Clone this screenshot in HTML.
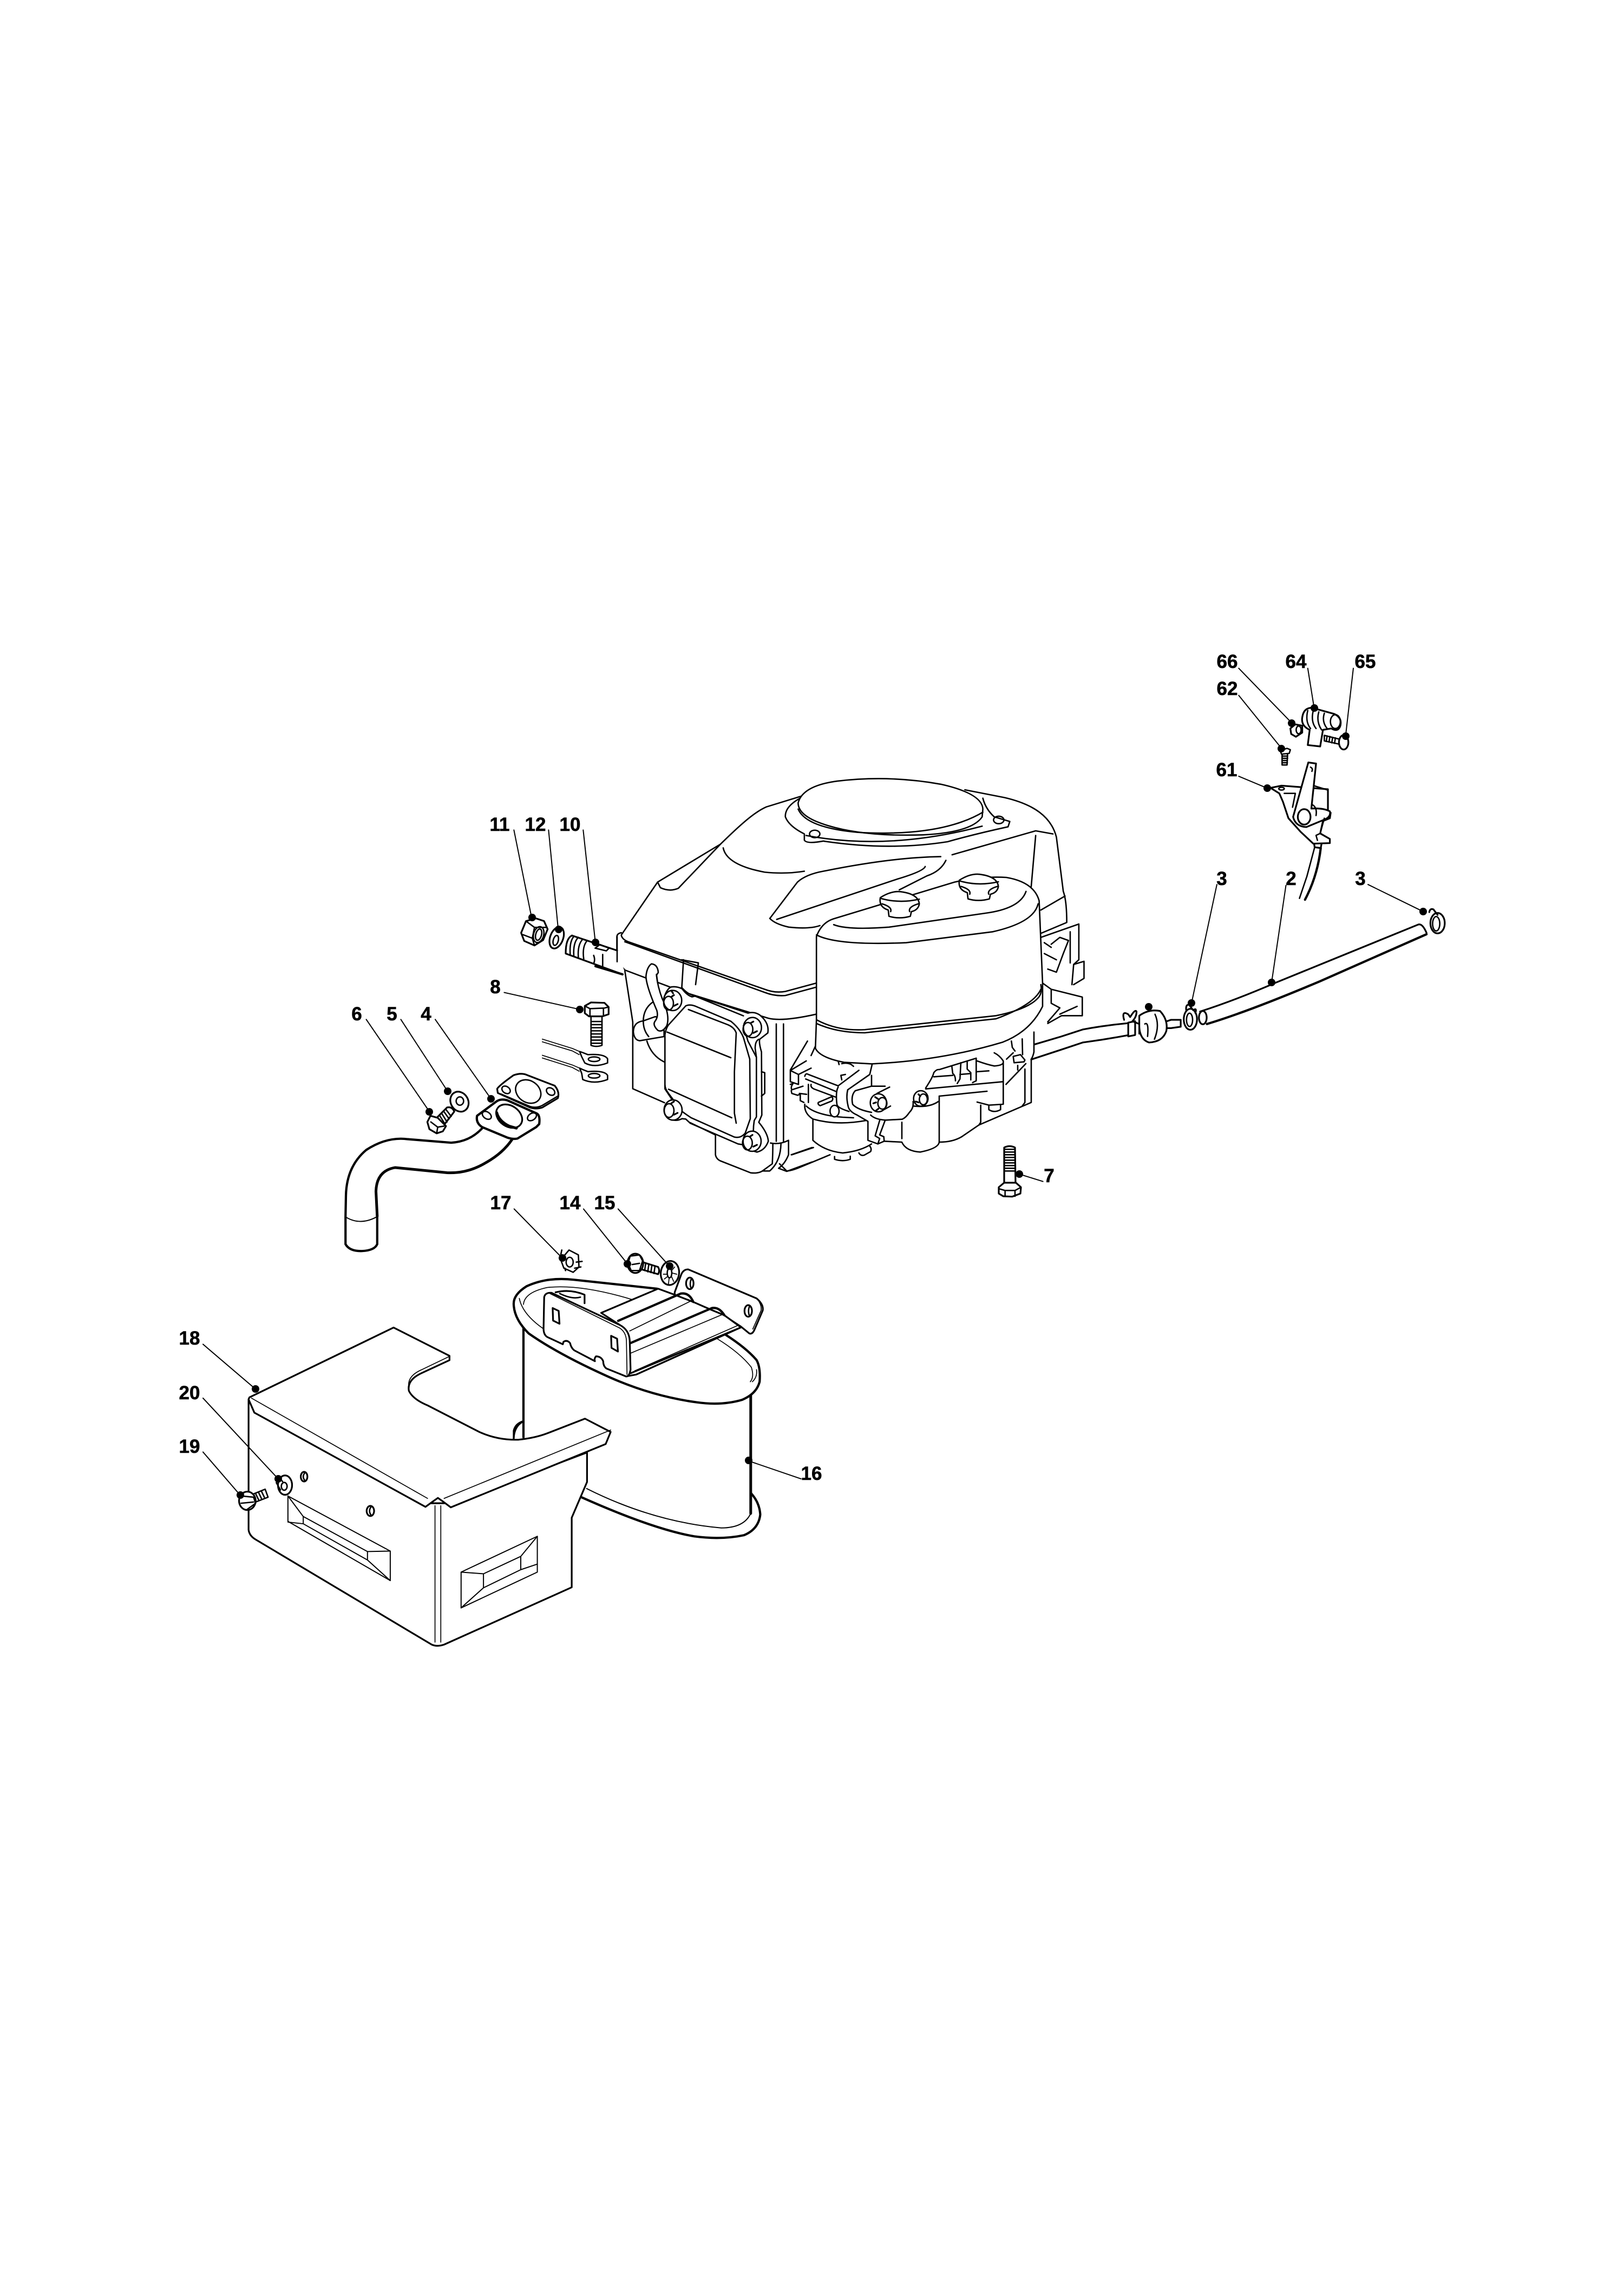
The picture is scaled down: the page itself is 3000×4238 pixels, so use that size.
<!DOCTYPE html>
<html><head><meta charset="utf-8"><style>
html,body{margin:0;padding:0;background:#fff}
svg{display:block}
svg *{vector-effect:non-scaling-stroke}
path,line,ellipse,polygon,circle{stroke:#000;stroke-width:2.6;fill:none;stroke-linejoin:round;stroke-linecap:round}
.w{fill:#fff}
.t{stroke-width:4.2}
.m{stroke-width:3.2}
.n{stroke-width:1.7}
.l{stroke-width:2}
circle.d{fill:#000;stroke:none}
text{font:bold 35px "Liberation Sans",sans-serif;text-anchor:middle;fill:#000;stroke:#000;stroke-width:.6}
</style></head><body>
<svg width="3000" height="4238" viewBox="0 0 3000 4238" xmlns="http://www.w3.org/2000/svg">
<rect width="3000" height="4238" fill="#fff"/>

<!-- ENGINE hood/block -->
<g transform="translate(1100,1400) scale(.6378,.574)">
<path class="w" d="M62,577 Q62,565 78,565 L180,400 L362,278 C420,215 460,175 495,158 L615,118 L850,60 L1070,103 L1185,128 C1270,150 1320,190 1335,255 L1355,430 Q1365,460 1365,530 L1400,535 L1415,655 L1410,830 L1270,915 L1262,1115 L1105,1170 L1050,1225 L1000,1235 Q990,1265 950,1268 Q900,1265 890,1235 L800,1240 L690,1285 L555,1330 L530,1325 L470,1335 L370,1300 Q348,1295 345,1280 L345,1215 L108,1065 L108,850 L85,685 L62,655 Z" style="stroke:none"/>
<path d="M75,570 L180,400 L362,278 C420,215 460,175 495,158 L612,118"/>
<path d="M1070,103 L1185,128 C1270,150 1320,190 1335,255 L1355,430 Q1365,460 1365,530 L1290,565"/>
<path d="M1290,490 L1360,445"/>
<path d="M1275,250 L1262,415"/>
<path d="M180,400 L188,418 Q215,432 240,420 L362,278"/>
<path d="M370,290 Q380,345 490,368 Q550,375 605,365"/>
<path d="M505,517 L585,400 Q610,375 660,365 Q860,320 1000,318"/>
<path d="M505,517 Q520,535 560,545 Q620,552 650,540"/>
<path d="M525,520 L875,390 Q950,365 955,350"/>
<path d="M1033,312 L1275,235 L1325,245"/>
<path d="M1015,330 Q1000,365 960,380 L880,425"/>
<!-- air filter lid -->
<path d="M615,118 Q548,150 550,190 Q560,220 605,245 L605,265 Q612,278 660,268 Q850,300 1020,270 Q1100,245 1195,222 L1200,205 L1155,190 Q1130,165 1122,130"/>
<path d="M610,250 Q850,300 1120,220"/>
<path class="w" d="M587,145 Q600,90 700,75 Q850,55 1000,85 Q1120,115 1122,165 L1120,190 Q1090,240 950,248 Q750,255 640,205 Q587,180 587,145 Z"/>
<path d="M587,165 Q610,225 760,240 Q1000,255 1122,175"/>
<ellipse cx="635" cy="245" rx="15" ry="12"/>
<ellipse cx="1168" cy="200" rx="15" ry="12"/>
<!-- rim band -->
<path d="M62,577 L62,655 L85,683"/>
<path d="M62,577 Q62,565 75,563"/>
<path d="M75,572 Q78,585 95,592 L490,745 Q520,758 550,752 L640,725"/>
<path d="M85,592 L490,755 Q520,768 550,765 L640,738"/>
<path d="M85,683 L250,752 L500,838 Q540,850 640,825"/>
<path d="M250,650 L298,660 L290,730"/>
<path d="M255,650 L250,740"/>
<path d="M85,685 L108,850 L108,1065 L200,1110"/>
<!-- right bracket -->
<path d="M1290,578 L1400,535 L1400,650 L1385,665 L1380,730"/>
<path d="M1375,560 L1375,660"/>
<path d="M1320,600 L1345,578 L1370,588 L1355,630 L1335,690 L1310,680"/>
<path d="M1300,630 L1335,650 M1300,595 L1320,610"/>
<path d="M1385,665 L1415,655 L1415,710 L1385,730"/>
<path d="M1295,725 L1320,745 L1410,770 L1410,830 L1350,830 L1310,855"/>
<path d="M1320,745 L1320,790 L1345,805 L1310,850"/>
<path d="M1345,825 L1395,800"/>
</g>

<!-- VALVE COVER -->
<g transform="translate(1160,1780) scale(.33333)">
<path d="M485,950 L485,1060 Q490,1085 515,1095 L680,1160 Q720,1165 745,1150 L800,1110 Q803,1050 803,1000"/>
<path d="M745,1150 L785,1150 Q845,1100 848,1000"/>
<path d="M790,995 Q840,1005 890,980 L890,1060 Q870,1110 835,1135 L880,1152 L1020,1100"/>
<path d="M905,1060 L1020,1020"/>
<path d="M822,335 L822,985"/>
<path d="M862,335 L862,985"/>
<path d="M140,212 Q85,250 85,320"/>
<path d="M105,430 Q130,510 200,545"/>
<path class="w" d="M150,295 L85,318 Q30,325 30,380 Q35,425 65,428 L200,405 L200,300 Z"/>
<path d="M85,320 Q85,370 115,405"/>
<path class="w" d="M240,130 Q270,125 300,140 Q325,175 355,185 L375,180 L665,275 Q700,265 730,285 Q785,330 775,385 L730,420 Q725,440 740,490 L742,840 L725,880 Q775,940 778,985 Q760,1035 715,1045 L680,1035 L640,1005 L610,1000 L345,885 L320,862 L300,860 Q270,875 240,865 Q200,840 205,800 Q215,760 245,755 L205,695 L205,395 L215,355 Q190,240 200,190 Q215,140 240,130 Z"/>
<path d="M300,135 Q330,170 370,180 L640,290"/>
<path d="M640,345 L665,430 L712,520 L712,850 L700,870 Q695,900 695,930"/>
<path d="M725,420 Q705,430 705,470 L712,520"/>
<path d="M740,600 L758,605 L758,720 L740,735"/>
<path d="M345,882 L485,950"/>
<path class="w" d="M320,235 Q340,225 370,235 L570,320 Q620,360 640,410 L675,530 L678,860 L650,940 Q625,970 590,962 L350,855 Q320,835 300,820 L225,720 Q205,695 205,670 L205,395 Q210,360 225,340 Z"/>
<path d="M335,255 L555,340 Q590,355 600,385 L590,600 L590,830 L600,885"/>
<path d="M217,380 L570,522"/>
<path d="M225,697 L575,855"/>
<path class="w" d="M100,70 Q105,20 130,2 Q165,5 168,50 L158,65 Q165,130 190,195 Q235,290 215,345 Q190,385 165,370 Q135,340 150,320 Q170,295 160,260 Q100,120 100,70 Z"/>
<path d="M158,60 L165,110"/>
<!-- bolts -->
<ellipse class="w" cx="248" cy="205" rx="50" ry="56"/><ellipse cx="225" cy="220" rx="27" ry="38"/>
<path class="m" d="M240,185 L255,175 M255,235 L275,225 M240,150 L250,165"/>
<ellipse class="w" cx="690" cy="355" rx="50" ry="56"/><ellipse cx="665" cy="365" rx="27" ry="38"/>
<path class="m" d="M680,330 L695,322 M695,385 L715,375"/>
<ellipse class="w" cx="250" cy="812" rx="50" ry="56"/><ellipse cx="228" cy="815" rx="27" ry="38"/>
<path class="m" d="M240,775 L255,765 M255,838 L275,828"/>
<ellipse class="w" cx="688" cy="985" rx="50" ry="56"/><ellipse cx="662" cy="995" rx="27" ry="38"/>
<path class="m" d="M675,960 L690,950 M695,1015 L715,1005"/>
</g>

<!-- CARB / LOWER BLOCK -->
<g transform="translate(1440,1880) scale(.33333)">
<path class="w" d="M60,290 L198,170 L1450,100 L1395,470 L1100,600 L890,690 L880,720 L780,745 L680,700 L580,690 L510,710 L390,790 L300,770 L185,690 L185,560 L140,510 L60,360 Z" style="stroke:none"/>
<path d="M155,130 L60,290 L60,355 L105,370 L105,315 L60,293"/>
<path d="M105,315 L175,280"/>
<path d="M65,290 L148,240"/>
<path d="M175,210 L198,160"/>
<path d="M145,340 L315,410 M140,325 Q145,305 160,315 L325,378"/>
<path d="M60,370 L75,365 Q60,385 68,400 L130,380 M65,405 L68,420 L100,430 L115,425 L115,460 L135,470 M110,420 L150,425"/>
<path d="M160,370 L160,470"/>
<path d="M175,370 Q170,385 190,395 L310,440"/>
<path d="M325,378 L440,292"/>
<path d="M325,385 Q310,410 318,480 Q320,500 385,520"/>
<path d="M378,400 Q368,440 380,490 Q385,520 430,540 L490,575 L490,680 L545,700 L580,685 L578,660 L555,650 L585,570"/>
<path d="M530,655 L555,570 M530,655 L555,670 L545,700"/>
<path d="M378,400 L500,315 L513,260"/>
<path d="M510,320 L510,380 L585,380"/>
<path d="M420,405 L510,380"/>
<path d="M540,420 L610,385"/>
<path d="M420,405 Q395,430 405,480 Q430,510 510,525"/>
<path d="M560,520 L615,490"/>
<path d="M505,540 Q530,565 590,568 L680,563 Q700,555 720,525 Q745,500 740,465"/>
<path d="M810,390 Q850,330 855,305 Q870,285 885,288 L1090,225"/>
<path d="M855,328 L960,320"/>
<path d="M810,395 L1240,355"/>
<path d="M885,435 L1150,408"/>
<path d="M885,435 L885,690 Q880,725 780,745 Q700,740 678,690 L580,685"/>
<path d="M678,580 L678,670"/>
<path d="M740,490 Q830,500 880,465"/>
<path d="M1095,468 L1160,485 L1240,480 L1240,240 Q1220,210 1190,195"/>
<path d="M1095,240 Q1150,260 1190,268 Q1235,265 1240,250"/>
<path d="M1090,300 L1160,295"/>
<path d="M1090,225 L1090,350 L1070,360"/>
<path d="M955,270 L960,310 Q975,320 975,350"/>
<path d="M1005,250 L1000,340 L985,365"/>
<path d="M1040,240 L1040,285 L1060,305 L1060,345"/>
<path d="M1000,315 L1060,310"/>
<path d="M1115,485 L1115,580 L1105,595"/>
<path d="M885,690 Q960,690 1010,660 L1105,595 L1395,470 L1395,235"/>
<path d="M1360,285 L1360,470 L1345,490"/>
<path d="M1160,490 L1160,510 Q1190,530 1225,510 L1225,485"/>
<path d="M1255,370 L1365,255"/>
<path d="M1320,265 L1320,290"/>
<path d="M1295,215 L1335,205 L1360,235 L1355,245 L1300,250 Z"/>
<path d="M1285,130 L1290,165 L1305,185"/>
<path d="M1258,230 L1295,195"/>
<path d="M1345,118 L1347,205"/>
<path d="M1410,80 L1410,190 Q1405,215 1395,230"/>
<path class="m" d="M1415,148 L1560,105 L1680,66"/>
<path class="m" d="M1395,232 L1560,178 L1680,138"/>
<!-- filter -->
<path d="M140,480 Q135,530 185,562 Q320,600 480,570"/>
<path d="M148,490 Q200,540 350,552 L410,555"/>
<path d="M185,562 L185,680 Q250,740 350,750 Q450,740 510,700"/>
<ellipse class="w" cx="305" cy="518" rx="25" ry="32"/>
<path d="M215,470 L290,438 Q300,450 290,462 L225,488 Q210,480 215,470 Z"/>
<path d="M305,770 L305,785 Q350,800 392,785 L392,768"/>
<path d="M440,750 Q450,768 470,762 L505,742 Q512,725 500,712"/>
<path d="M68,760 L188,720"/>
<path d="M0,810 L40,850 Q60,850 100,835 L280,760"/>
<path d="M325,240 L330,260 M345,255 Q385,245 410,270 M345,345 L340,320 L365,315"/>
<!-- boss bolts -->
<ellipse class="w" cx="548" cy="472" rx="45" ry="50"/><ellipse cx="570" cy="475" rx="25" ry="32"/>
<path class="m" d="M530,440 L545,450 M520,475 L535,470 M535,515 L548,505"/>
<ellipse class="w" cx="783" cy="448" rx="40" ry="43"/><ellipse cx="797" cy="453" rx="22" ry="30"/>
<path class="m" d="M770,425 L780,435 M755,465 L770,470"/>
<!-- bolt 7 -->
<path class="w m" d="M1245,720 Q1275,705 1305,720 L1308,920 L1245,915 Z"/>
<path d="M1248,730 L1305,730 M1248,745 L1305,745 M1248,760 L1305,760 M1248,775 L1305,775 M1248,790 L1305,790 M1248,805 L1305,805 M1248,820 L1305,820 M1248,835 L1305,835 M1248,850 L1305,850"/>
<path class="w m" d="M1215,940 L1245,915 L1310,915 L1338,940 L1335,975 L1290,992 L1240,990 L1215,975 Z"/>
<path d="M1215,948 L1250,958 L1305,958 L1338,940 M1250,958 L1250,990 M1305,958 L1305,990"/>
<line class="l" x1="1460" y1="908" x2="1328" y2="867"/>
</g>

<!-- TANK -->
<g transform="translate(1100,1400) scale(.6378,.574)">
<path class="w" d="M640,575 Q655,530 690,518 L1040,400 Q1120,380 1190,385 Q1270,400 1285,460 L1295,725 L1295,800 Q1260,880 1180,915 Q1000,975 800,985 L720,980 Q650,965 637,935 L640,843 Z"/>
<path d="M690,537 Q730,555 850,545 L1130,500 Q1230,485 1247,430"/>
<path d="M640,570 Q700,605 900,595 L1150,560 Q1270,530 1282,470"/>
<path d="M1290,730 Q1295,760 1280,775 Q1250,810 1160,830 L780,875 Q700,880 640,843"/>
<path d="M1290,745 Q1270,795 1160,840 L780,885 Q700,885 640,855"/>
<path class="w" d="M825,450 Q860,425 890,432 Q935,440 938,470 Q935,490 915,495 L912,510 Q880,520 850,510 L848,490 Q820,480 825,450 Z"/>
<path d="M830,470 Q860,480 855,495 M935,470 Q905,480 910,495 M825,452 Q880,470 938,455"/>
<g transform="translate(229,-56)">
<path class="w" d="M825,450 Q860,425 890,432 Q935,440 938,470 Q935,490 915,495 L912,510 Q880,520 850,510 L848,490 Q820,480 825,450 Z"/>
<path d="M830,470 Q860,480 855,495 M935,470 Q905,480 910,495 M825,452 Q880,470 938,455"/>
</g>
</g>

<!-- THROTTLE / HOSE -->
<g transform="translate(2000,1180) scale(.5102)">
<path class="m" d="M0,1415 Q80,1400 165,1392"/>
<path class="m" d="M0,1462 Q90,1450 185,1432"/>
<path class="w m" d="M165,1390 L190,1385 L190,1435 L165,1440 Z"/>
<path class="m" d="M150,1380 Q140,1345 165,1360 L172,1370 Q190,1340 195,1350 Q195,1370 180,1385 L205,1395 L205,1430"/>
<path class="w m" d="M205,1365 Q240,1340 280,1348 Q310,1380 303,1420 Q290,1460 240,1462 Q205,1450 205,1400 Z"/>
<path d="M225,1395 Q240,1385 235,1440 M262,1360 Q280,1400 260,1450"/>
<path class="m" d="M305,1385 L320,1380 L355,1380 L355,1405 L320,1410 L305,1410"/>
<ellipse class="w m" cx="390" cy="1378" rx="24" ry="38"/>
<ellipse cx="387" cy="1380" rx="11" ry="24"/>
<path class="m" d="M375,1345 Q372,1325 385,1325 L400,1345 Q415,1335 408,1355"/>
<path class="w" d="M425,1350 Q550,1310 700,1245 L1215,1035 Q1230,1030 1245,1065 L860,1240 Q600,1350 450,1395 Z" style="stroke:none"/>
<path class="m" d="M425,1350 Q550,1310 700,1245 L1215,1035 Q1230,1030 1245,1065"/>
<path class="t" d="M450,1395 Q600,1350 860,1240 L1245,1070"/>
<ellipse class="m" cx="435" cy="1372" rx="14" ry="24"/>
<ellipse class="w m" cx="1285" cy="1030" rx="26" ry="37"/>
<ellipse cx="1280" cy="1032" rx="13" ry="26"/>
<path class="m" d="M1255,990 Q1258,975 1270,980 L1285,1000"/>
<path class="w m" d="M795,285 Q800,250 830,250 L910,272 Q940,285 933,315 Q925,340 900,325 L870,330 L860,390 L815,385 L822,330 Q790,315 795,285 Z"/>
<path d="M815,260 Q805,300 825,325 M835,260 Q825,300 845,325 M855,265 Q845,300 865,330 M875,270 Q865,300 885,325"/>
<ellipse cx="915" cy="300" rx="18" ry="25"/>
<path class="w" d="M875,350 L935,365 L930,382 L875,370 Z"/>
<path d="M885,352 L882,372 M895,354 L892,374 M905,357 L902,377 M915,359 L912,379"/>
<ellipse class="w m" cx="945" cy="375" rx="17" ry="26"/>
<path class="w m" d="M752,325 L770,310 L795,315 L795,340 L772,355 L755,345 Z"/>
<ellipse cx="782" cy="330" rx="9" ry="14"/>
<path class="w" d="M722,415 L742,415 L740,457 L722,457 Z"/>
<path d="M722,425 L742,425 M722,433 L742,433 M722,441 L741,441 M722,449 L741,449"/>
<path class="w" d="M715,405 L740,397 L752,402 L748,415 L720,418 Z"/>
<path class="w m" d="M680,540 L720,532 L888,545 L888,625 L898,630 L895,650 L870,660 L860,705 L895,725 L895,740 L835,742 L790,700 L745,650 L725,590 L712,560 Z"/>
<path d="M830,530 L888,548"/>
<path d="M730,560 L770,560 L760,610"/>
<ellipse cx="720" cy="543" rx="10" ry="5"/>
<path class="w m" d="M817,448 L845,452 L828,615 Q870,612 895,625 Q900,645 875,655 L810,682 Q770,680 762,645 Z"/>
<path d="M825,465 Q835,470 830,480"/>
<ellipse class="w m" cx="802" cy="645" rx="23" ry="28"/>
<path d="M830,600 Q850,610 845,640"/>
<path d="M875,650 L860,705 L845,712 L850,730"/>
<path class="m" d="M838,742 L840,755 L862,758 L865,742"/>
<path d="M840,755 L812,860 L785,940"/>
<path class="t" d="M862,758 Q850,860 805,945"/>
</g>

<!-- PIPE / GASKETS / BOLT 8 -->
<g transform="translate(600,1780) scale(.3827)">
<path class="t" d="M760,795 Q700,860 610,865 L400,848 Q300,835 200,900 Q105,980 102,1120 L100,1220 L100,1355 Q120,1390 180,1388 Q240,1385 253,1355 L253,1220"/>
<path class="t" style="stroke-width:5" d="M253,1220 L247,1100 Q250,1000 340,985 L590,1010 Q690,1015 780,960 Q860,915 905,848"/>
<path class="l" d="M103,1225 Q170,1265 247,1225"/>
<path class="w m" d="M832,605 Q840,590 910,540 Q950,525 980,540 L1110,590 Q1135,620 1125,650 L1050,695 Q1020,705 990,695 L835,625 Z"/>
<path d="M850,630 L990,690 Q1020,700 1050,685 L1125,640"/>
<ellipse cx="982" cy="618" rx="65" ry="52" transform="rotate(35 982 618)"/>
<ellipse cx="875" cy="610" rx="22" ry="16" transform="rotate(35 875 610)"/>
<ellipse cx="1090" cy="618" rx="22" ry="16" transform="rotate(35 1090 618)"/>
<path class="w t" d="M735,735 L830,665 Q850,652 880,660 L1025,725 Q1040,735 1035,775 L1020,790 L930,845 Q910,850 880,840 L760,790 Q728,770 735,735 Z"/>
<ellipse class="m" cx="890" cy="737" rx="68" ry="50" transform="rotate(35 890 737)"/>
<path class="t" style="stroke-width:5" d="M830,720 Q840,760 890,785 L925,795"/>
<ellipse cx="782" cy="733" rx="24" ry="16" transform="rotate(35 782 733)"/>
<ellipse cx="1000" cy="740" rx="24" ry="16" transform="rotate(-35 1000 740)"/>
<ellipse class="w m" cx="650" cy="667" rx="42" ry="50" transform="rotate(-30 650 667)"/>
<ellipse cx="652" cy="664" rx="18" ry="20"/>
<path class="w m" d="M540,745 L590,695 Q615,690 625,715 L575,780 Z"/>
<path d="M555,735 L580,775 M565,725 L590,765 M575,715 L600,750 M585,705 L610,738"/>
<path class="w m" d="M510,735 L545,745 L585,785 L570,810 L540,820 L505,800 L495,765 Z"/>
<path d="M512,765 L545,790 L575,785 M545,790 L540,820"/>
<path class="w" d="M1285,255 L1338,255 L1338,395 Q1310,405 1285,395 Z"/>
<path d="M1285,280 L1338,280 M1285,295 L1338,295 M1285,310 L1338,310 M1285,325 L1338,325 M1285,340 L1338,340 M1285,355 L1338,355 M1285,370 L1338,370 M1285,385 L1338,385"/>
<path class="w m" d="M1255,205 L1285,188 L1350,190 L1370,210 L1370,245 L1340,255 L1275,255 L1255,240 Z"/>
<path d="M1255,205 L1280,218 L1350,215 L1370,210 M1280,218 L1280,255 M1345,215 L1345,252"/>
<path class="n" d="M1050,365 L1195,410 L1230,425 M1050,378 L1195,422 L1228,440"/>
<path class="n" d="M1050,443 L1195,490 L1230,505 M1050,456 L1195,502 L1228,520"/>
<path class="w" d="M1230,425 L1245,430 L1270,440 Q1350,435 1365,460 L1365,480 Q1300,505 1255,480 L1240,450 Z"/>
<ellipse cx="1300" cy="462" rx="28" ry="11"/>
<path class="w" d="M1230,505 L1245,512 L1270,522 Q1350,515 1365,540 L1365,560 Q1300,585 1245,560 L1240,530 Z"/>
<ellipse cx="1300" cy="542" rx="28" ry="11"/>
<line class="l" x1="866" y1="140" x2="1232" y2="222"/>
<line class="l" x1="200" y1="270" x2="505" y2="715"/>
<line class="l" x1="367" y1="270" x2="593" y2="617"/>
<line class="l" x1="533" y1="270" x2="802" y2="653"/>
</g>

<!-- MUFFLER -->
<g transform="translate(900,2200) scale(.3827,.4464)">
<path class="t" d="M175,570 L175,1020"/>
<path class="t" style="stroke-width:5" d="M1272,840 L1272,1335"/>
<path class="m" d="M172,955 Q130,975 128,1025"/>
<path class="t" d="M1272,1250 Q1315,1290 1318,1340 Q1310,1400 1240,1425 Q1130,1445 1000,1430 Q800,1400 455,1268"/>
<path class="l" d="M480,1232 Q800,1370 1130,1395 Q1240,1395 1272,1335"/>
<path class="w t" d="M128,470 Q125,430 190,395 Q290,355 420,368 Q600,385 820,405 L1150,595 Q1250,650 1300,700 Q1320,730 1315,790 Q1300,840 1230,865 Q1130,890 1010,875 Q800,850 600,775 Q350,680 200,590 Q130,530 128,470 Z"/>
<path class="n" d="M155,445 Q170,510 270,570"/>
<path class="n" d="M175,470 Q180,420 290,400 Q450,385 700,450"/>
<path class="n" d="M1110,612 Q1220,670 1275,730 Q1290,770 1270,790"/>
<path class="n" d="M1300,740 Q1305,770 1280,790"/>
<path class="m" d="M330,420 Q400,405 470,430 L470,465"/>
<path d="M350,425 Q410,450 450,440"/>
<path class="w m" d="M905,420 L935,350 Q945,325 970,325 L1300,445 Q1335,470 1330,495 L1290,575 Q1280,595 1265,590 L1225,562 L1150,520 L905,430 Z"/>
<path class="w m" d="M550,505 L825,405 L905,430 L995,460 L1075,490 L1145,515 L1225,565 L720,760 L670,768 L640,555 Z"/>
<path class="n" d="M1310,455 Q1325,475 1322,495 L1282,572"/>
<path class="t" d="M632,538 L935,425 Q975,420 995,460"/>
<path class="t" d="M692,630 L1085,485 Q1120,480 1145,515"/>
<path class="n" d="M688,580 L985,455"/>
<path class="n" d="M692,672 L1140,510"/>
<path class="m" d="M692,755 L1225,565"/>
<path class="n" d="M712,745 L1215,555"/>
<ellipse class="m" cx="978" cy="383" rx="18" ry="24"/>
<path d="M985,365 Q975,385 985,405"/>
<ellipse class="m" cx="1260" cy="497" rx="18" ry="24"/>
<path d="M1266,478 Q1257,497 1266,518"/>
<path class="w m" d="M275,440 Q280,420 310,422 L640,555 Q685,575 688,620 L692,740 Q685,770 670,768 L575,735 Q560,725 560,705 Q550,685 525,685 Q515,695 520,705 L420,660 Q405,650 400,630 Q385,615 368,625 L365,635 L290,605 Q272,595 272,570 Z"/>
<path class="n" d="M303,425 L640,568 Q670,585 672,620 L675,760"/>
<polygon class="m" points="316,485 345,497 349,550 318,537"/>
<polygon class="m" points="598,600 627,612 631,665 600,650"/>
<path class="w m" d="M750,295 L825,315 Q835,330 825,345 L745,325 Z"/>
<path d="M765,300 L760,330 M780,305 L775,335 M795,308 L790,338 M810,312 L805,342"/>
<ellipse class="w m" cx="715" cy="300" rx="38" ry="40"/>
<path d="M690,270 L735,265 L750,290 L735,330 L695,330 L680,300 Z M700,305 L735,300"/>
<ellipse class="w m" cx="882" cy="340" rx="44" ry="50" transform="rotate(15 882 340)"/>
<ellipse cx="880" cy="340" rx="11" ry="20"/>
<path class="n" d="M850,345 L868,345 M855,365 L870,355 M875,385 L878,362 M900,375 L890,355 M915,345 L893,340 M905,315 L890,330"/>
<path class="w" d="M355,285 L395,245 L440,265 L443,315 L415,337 L370,320 Z"/>
<ellipse cx="398" cy="295" rx="17" ry="20"/>
<path d="M430,295 L458,292 M422,320 L452,315 M360,245 L355,265 M375,320 L378,330"/>
<line class="l" x1="130" y1="75" x2="362" y2="278"/>
<line class="l" x1="465" y1="75" x2="677" y2="302"/>
<line class="l" x1="632" y1="75" x2="880" y2="312"/>
<line class="l" x1="1280" y1="1123" x2="1515" y2="1192"/>
</g>

<!-- SHIELD -->
<g transform="translate(300,2420) scale(.7653,.4464)">
<path class="w m" d="M208,370 L208,910 Q210,935 225,950 L650,1385 Q663,1395 680,1385 L988,1148 L988,860 L1025,712 L1025,590 L700,800 L640,800 L222,425 Z"/>
<path class="w m" d="M210,362 L558,73 L693,190 L693,208 L625,262 Q590,290 595,335 Q605,370 640,395 L765,505 Q810,540 860,537 Q900,530 930,510 L1020,450 L1082,505 L1070,555 L696,817 L675,790 L665,778 L655,790 L635,815 L222,425 L208,370 Z"/>
<path class="n" d="M215,365 L640,780"/>
<path class="n" d="M680,780 L1082,497"/>
<path class="n" d="M693,192 L625,248 Q590,275 595,320"/>
<path class="m" d="M848,535 L848,500 Q852,470 872,460"/>
<path class="n" d="M658,810 L658,1375"/>
<path class="n" d="M672,810 L672,1375"/>
<path class="l" d="M303,770 L303,875 L550,1120 L550,998 Z"/>
<path class="l" d="M303,770 L340,855 L495,1000 L550,998 M340,855 L340,885 L303,878 M340,885 L495,1035 L495,1000 M495,1035 L550,1120"/>
<path class="l" d="M721,1085 L905,937 L905,1085 L721,1233 Z"/>
<path class="l" d="M775,1092 L865,1020 L865,1075 L775,1150 Z M721,1085 L775,1092 M905,937 L865,1020 M905,1052 L865,1075 M721,1233 L775,1150"/>
<ellipse class="m" cx="342" cy="690" rx="8" ry="20"/>
<ellipse class="m" cx="502" cy="832" rx="9" ry="21"/>
<path d="M345,672 Q335,690 345,708 M505,812 Q495,832 505,852"/>
<ellipse class="w m" cx="296" cy="725" rx="17" ry="40"/>
<ellipse cx="294" cy="730" rx="7" ry="16"/>
<path d="M275,715 L285,745 M280,690 L290,710"/>
<path class="w" d="M215,765 L248,742 L255,775 L225,795 Z"/>
<path d="M225,760 L232,785 M232,755 L239,780 M239,750 L246,775"/>
<ellipse class="w m" cx="205" cy="790" rx="20" ry="38"/>
<path d="M190,770 L220,775 L225,800 L205,825 M190,800 L220,795"/>
<line class="l" x1="98" y1="142" x2="225" y2="328"/>
<line class="l" x1="98" y1="365" x2="280" y2="700"/>
<line class="l" x1="98" y1="588" x2="188" y2="767"/>
</g>

<!-- EXHAUST STUD / NUT -->
<g transform="translate(900,1500) scale(.33333)">
<path class="w m" d="M215,605 L270,590 L315,605 L335,650 L310,710 L262,740 L205,715 L188,670 Z"/>
<path d="M198,680 L250,700 L262,740 M250,700 L262,640 L215,605 M262,640 L330,640"/>
<ellipse cx="285" cy="680" rx="28" ry="45" transform="rotate(15 285 680)"/>
<ellipse cx="285" cy="680" rx="16" ry="32" transform="rotate(15 285 680)"/>
<ellipse class="w m" cx="385" cy="697" rx="36" ry="62" transform="rotate(20 385 697)"/>
<ellipse cx="380" cy="712" rx="14" ry="28" transform="rotate(15 380 712)"/>
<path class="w" d="M470,685 Q435,700 435,780 L740,900 L760,880 L720,765 Z" style="stroke:none"/>
<path class="m" d="M470,685 Q435,700 435,785 L750,900"/>
<path class="t" d="M600,855 L750,900"/>
<path class="m" d="M470,685 L590,725 L720,768"/>
<path d="M480,690 Q455,720 460,790 M505,695 Q475,725 480,798 M530,705 Q500,735 505,805 M555,712 Q525,745 535,815"/>
<path d="M598,755 L660,770 L675,755 L625,735 Z"/>
<path d="M640,790 L640,860 M590,795 Q600,820 590,840"/>
<path d="M720,690 L720,830"/>
<line class="l" x1="148" y1="100" x2="243" y2="570"/>
<line class="l" x1="340" y1="100" x2="392" y2="635"/>
<line class="l" x1="532" y1="100" x2="598" y2="710"/>
</g>

<!-- throttle leaders -->
<g transform="translate(2000,1180) scale(.5102)">
<line class="l" x1="565" y1="107" x2="757" y2="305"/>
<line class="l" x1="815" y1="107" x2="838" y2="250"/>
<line class="l" x1="980" y1="107" x2="952" y2="352"/>
<line class="l" x1="565" y1="205" x2="720" y2="397"/>
<line class="l" x1="565" y1="498" x2="668" y2="541"/>
<line class="l" x1="486" y1="890" x2="394" y2="1320"/>
<line class="l" x1="736" y1="893" x2="684" y2="1245"/>
<line class="l" x1="1033" y1="890" x2="1233" y2="988"/>
</g>

<!-- dots -->
<g>
<circle class="d" cx="2386" cy="1336" r="7"/><circle class="d" cx="2428" cy="1308" r="7"/>
<circle class="d" cx="2486" cy="1360" r="7"/><circle class="d" cx="2367" cy="1383" r="7"/>
<circle class="d" cx="2341" cy="1456" r="7"/><circle class="d" cx="2201" cy="1853" r="7"/>
<circle class="d" cx="2349" cy="1815" r="7"/><circle class="d" cx="2629" cy="1684" r="7"/>
<circle class="d" cx="2122" cy="1860" r="7"/>
<circle class="d" cx="1071" cy="1865" r="7"/><circle class="d" cx="793" cy="2054" r="7"/>
<circle class="d" cx="827" cy="2016" r="7"/><circle class="d" cx="907" cy="2030" r="7"/>
<circle class="d" cx="1039" cy="2324" r="7"/><circle class="d" cx="1159" cy="2335" r="7"/>
<circle class="d" cx="1237" cy="2339" r="7"/><circle class="d" cx="1383" cy="2698" r="7"/>
<circle class="d" cx="472" cy="2566" r="7"/><circle class="d" cx="514" cy="2732" r="7"/>
<circle class="d" cx="444" cy="2762" r="7"/><circle class="d" cx="1883" cy="2169" r="7"/>
<circle class="d" cx="983" cy="1695" r="7"/><circle class="d" cx="1032" cy="1717" r="7"/>
<circle class="d" cx="1100" cy="1741" r="7"/>
</g>

<!-- labels -->
<g>
<text x="2267" y="1234">66</text><text x="2394" y="1234">64</text><text x="2522" y="1234">65</text>
<text x="2267" y="1284">62</text><text x="2266" y="1434">61</text>
<text x="2257" y="1635">3</text><text x="2385" y="1635">2</text><text x="2513" y="1635">3</text>
<text x="923" y="1535">11</text><text x="989" y="1535">12</text><text x="1053" y="1535">10</text>
<text x="915" y="1835">8</text><text x="659" y="1885">6</text><text x="724" y="1885">5</text><text x="787" y="1885">4</text>
<text x="1938" y="2184">7</text>
<text x="925" y="2234">17</text><text x="1053" y="2234">14</text><text x="1117" y="2234">15</text>
<text x="350" y="2484">18</text><text x="350" y="2585">20</text><text x="350" y="2684">19</text>
<text x="1499" y="2734">16</text>
</g>
</svg>
</body></html>
